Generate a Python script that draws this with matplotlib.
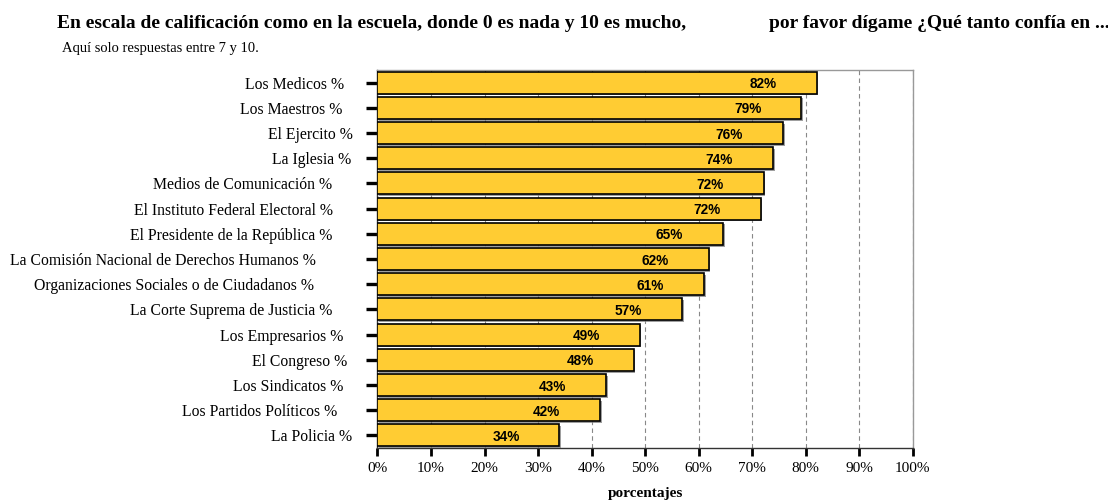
import matplotlib
matplotlib.use("Agg")
import matplotlib.pyplot as plt
import matplotlib.patheffects as pe
from matplotlib.ticker import MultipleLocator, FuncFormatter

plt.rcParams.update({
    "font.family":      ["Liberation Serif", "DejaVu Serif"],
    "font.size":        11,
    "axes.edgecolor":   "#999999",
    "axes.linewidth":   1.0,
    "xtick.color":      "black",
    "ytick.color":      "black",
})

instituciones = [
    "Los Medicos %",
    "Los Maestros %",
    "El Ejercito %",
    "La Iglesia %",
    "Medios de Comunicación %",
    "El Instituto Federal Electoral %",
    "El Presidente de la República %",
    "La Comisión Nacional de Derechos Humanos %",
    "Organizaciones Sociales o de Ciudadanos %",
    "La Corte Suprema de Justicia %",
    "Los Empresarios %",
    "El Congreso %",
    "Los Sindicatos %",
    "Los Partidos Políticos %",
    "La Policia %",
]
confianza = [82.1, 79.2, 75.8, 73.9, 72.2, 71.6, 64.6, 61.9, 61.0, 56.9,
             49.0, 47.9, 42.7, 41.6, 34.0]

# label padding (points) so the names sit the way the report printed them
label_pad = [15.8, 17.3, 9.4, 10.8, 24.5, 23.8, 24.5, 36.7, 37.4, 24.5,
             16.6, 13.7, 16.6, 20.9, 10.1]

fig = plt.figure(figsize=(11.08, 5.0), dpi=100)
ax = fig.add_axes([0.3407, 0.104, 0.4829, 0.756])

ypos = list(range(len(instituciones)))[::-1]
bars = ax.barh(ypos, confianza, height=0.88, color="#FFCC33",
               edgecolor="black", linewidth=1.2, zorder=3)
for b in bars:
    b.set_path_effects([pe.SimplePatchShadow(offset=(1.2, -1.2), shadow_rgbFace="#777777", alpha=0.7),
                        pe.Normal()])

for y, v in zip(ypos, confianza):
    ax.text(v - 10, y - 0.06, f"{v:.0f}%", ha="center", va="center",
            family=["Liberation Sans", "DejaVu Sans"], fontweight="bold",
            fontsize=9.8, zorder=4)

ax.set_xlim(0, 100)
ax.set_ylim(-0.5, len(instituciones) - 0.5)
ax.xaxis.set_major_locator(MultipleLocator(10))
ax.xaxis.set_major_formatter(FuncFormatter(lambda x, _: f"{x:.0f}%"))
ax.set_yticks(ypos)
ax.set_yticklabels(instituciones)
for tick, p in zip(ax.yaxis.get_major_ticks(), label_pad):
    tick.set_pad(p)

ax.tick_params(axis="x", length=5.8, width=2.0, pad=4, labelsize=11)
ax.tick_params(axis="y", length=8, width=2.4, labelsize=11.3)

ax.grid(axis="x", color="#888888", linestyle=(0, (4, 3)), linewidth=0.8, zorder=0)
ax.spines["bottom"].set_color("#333333")
ax.spines["left"].set_color("#333333")

ax.set_xlabel("porcentajes", fontweight="bold", fontsize=11, labelpad=9)

fig.text(57 / 1108, 1 - 28 / 500,
         "En escala de calificación como en la escuela, donde 0 es nada y 10 es mucho,",
         fontweight="bold", fontsize=14, va="baseline")
fig.text(769 / 1108, 1 - 28 / 500, "por favor dígame ¿Qué tanto confía en ...",
         fontweight="bold", fontsize=14, va="baseline")
fig.text(62 / 1108, 1 - 52 / 500, "Aquí solo respuestas entre 7 y 10.",
         fontsize=10.5, va="baseline")

fig.savefig("out.png", dpi=100, facecolor="white")
